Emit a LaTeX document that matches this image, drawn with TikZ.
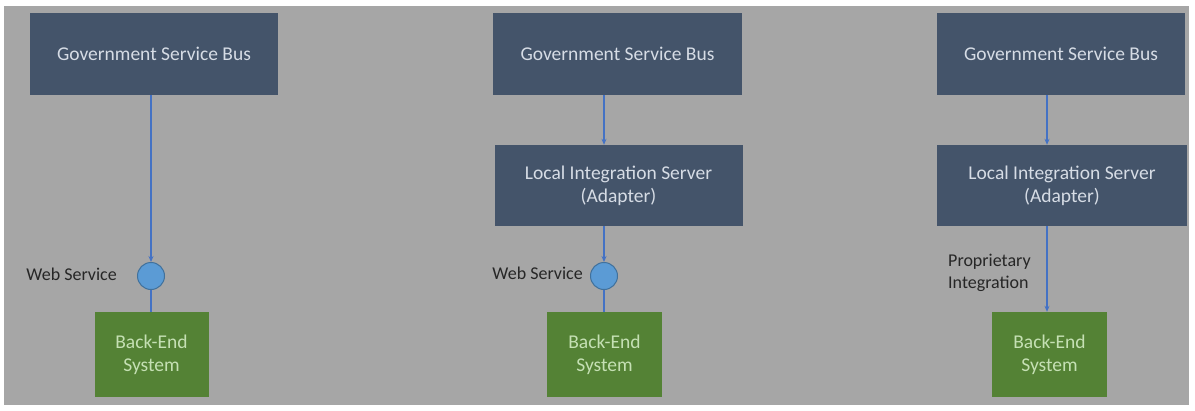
\documentclass[tikz,border=0pt]{standalone}
\usepackage{fontspec}
\setmainfont{Carlito}
\usetikzlibrary{arrows.meta}
\definecolor{bgray}{HTML}{A6A6A6}
\definecolor{navy}{HTML}{44546A}
\definecolor{boxtxt}{HTML}{D6DCE5}
\definecolor{grn}{HTML}{548235}
\definecolor{grntxt}{HTML}{C5E0B4}
\definecolor{lineblue}{HTML}{4472C4}
\definecolor{circfill}{HTML}{5B9BD5}
\definecolor{circedge}{HTML}{41719C}
\tikzset{
  navybox/.style={fill=navy, draw=none, text=boxtxt, align=center, font=\fontsize{19.5}{23}\selectfont, inner sep=0pt},
  greenbox/.style={fill=grn, draw=none, text=grntxt, align=center, font=\fontsize{19.5}{23}\selectfont, inner sep=0pt},
  iface/.style={circle, fill=circfill, draw=circedge, line width=1pt, minimum size=27pt, inner sep=0pt},
  conn/.style={draw=lineblue, line width=1.2pt},
  arr/.style={conn, -{Stealth[length=6pt,width=5pt]}},
  lbl/.style={text=black!85, font=\fontsize{18}{22}\selectfont, inner sep=0pt, align=left}
}
\begin{document}
\begin{tikzpicture}[x=1pt,y=-1pt]
\useasboundingbox (0,0) rectangle (1195,410);
\fill[white] (0,0) rectangle (1195,410);
\fill[bgray] (4,6) rectangle (1189,405);
\node[navybox, minimum width=248pt, minimum height=82pt] (gsb1) at (154,54) {Government Service Bus};
\node[navybox, minimum width=249pt, minimum height=82pt] (gsb2) at (617.5,54) {Government Service Bus};
\node[navybox, minimum width=248pt, minimum height=82pt] (gsb3) at (1061,54) {Government Service Bus};
\node[navybox, minimum width=248pt, minimum height=81pt] (lis2) at (618.5,185.5) {Local Integration Server\\(Adapter)};
\node[navybox, minimum width=250pt, minimum height=81pt] (lis3) at (1062,185.5) {Local Integration Server\\(Adapter)};
\node[greenbox, minimum width=114pt, minimum height=85pt] (be1) at (151.5,354.5) {Back-End\\System};
\node[greenbox, minimum width=115pt, minimum height=85pt] (be2) at (604.5,354.5) {Back-End\\System};
\node[greenbox, minimum width=115pt, minimum height=85pt] (be3) at (1049.5,354.5) {Back-End\\System};
\node[iface] (ws1) at (151,276) {};
\node[iface] (ws2) at (604,276) {};
\draw[arr] (gsb1.south -| ws1) -- (ws1.north);
\draw[conn] (ws1.south) -- (be1.north -| ws1);
\draw[arr] (gsb2.south -| ws2) -- (lis2.north -| ws2);
\draw[arr] (lis2.south -| ws2) -- (ws2.north);
\draw[conn] (ws2.south) -- (be2.north -| ws2);
\coordinate (c3) at (1047,0);
\draw[arr] (gsb3.south -| c3) -- (lis3.north -| c3);
\draw[arr] (lis3.south -| c3) -- (be3.north -| c3);
\node[lbl, anchor=east] (l1) at (117,274) {Web Service};
\node[lbl, anchor=east] (l2) at (583,273) {Web Service};
\node[lbl, anchor=west] (l3) at (948,273) {Proprietary\\Integration};
\end{tikzpicture}
\end{document}
